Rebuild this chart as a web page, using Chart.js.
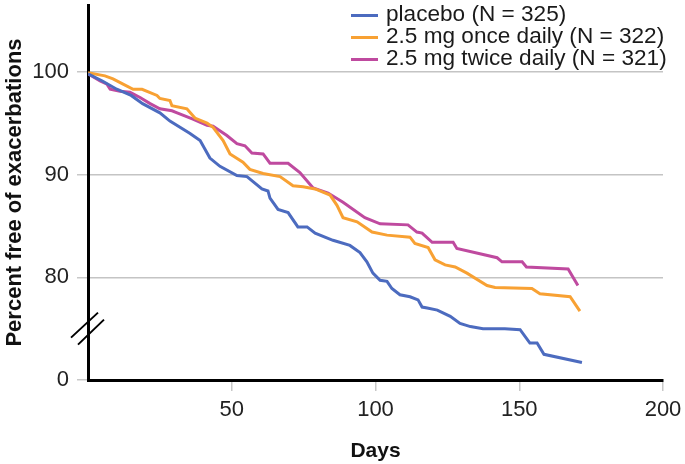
<!DOCTYPE html>
<html>
<head>
<meta charset="utf-8">
<script src="https://cdn.jsdelivr.net/npm/chart.js@4.4.1/dist/chart.umd.min.js"></script>
<style>
  body { margin: 0; background: #fff; }
  #wrap { position: relative; width: 685px; height: 464px; }
  #legend { position: absolute; left: 351px; top: 3px; font: 22.6px "Liberation Sans", Arial, sans-serif; color: #1a1a1a; }
  #legend .row { display: flex; align-items: center; height: 22px; line-height: 22px; white-space: nowrap; }
  #legend .swatch { width: 27px; height: 3px; margin-right: 8px; position: relative; top: 1px; }
</style>
</head>
<body>
<div id="wrap">
  <canvas id="kmChart" width="685" height="464"></canvas>
  <div id="legend"></div>
</div>
<script>
// series labels and colours
const seriesLabels = ['placebo (N = 325)', '2.5 mg once daily (N = 322)', '2.5 mg twice daily (N = 321)'];
const seriesColors = ['#4c6bbf', '#f8a133', '#bf4a9f'];

// placebo
const placeboDays = [0, 5, 10, 15, 19, 25, 28.5, 35.5, 39, 42.4, 45.9, 51.8, 55.3, 60.5, 62.6, 63.3, 66.1, 69.6, 73, 76.2, 79, 85.2, 91.1, 94.6, 97, 99.1, 101.6, 104, 105.7, 108.5, 112, 114.8, 116.2, 118, 121.5, 126, 129.4, 133, 137.4, 145, 150.3, 153.7, 156.2, 158.6, 171.8];
const placeboPct = [99.8, 99.1, 98.3, 97.7, 96.9, 96.0, 95.2, 94.0, 93.3, 91.6, 90.8, 89.9, 89.8, 88.6, 88.4, 87.7, 86.6, 86.3, 84.9, 84.9, 84.3, 83.6, 83.1, 82.4, 81.5, 80.4, 79.7, 79.6, 78.9, 78.3, 78.1, 77.8, 77.1, 77.0, 76.8, 76.2, 75.5, 75.2, 75.0, 75.0, 74.9, 73.6, 73.6, 72.5, 71.7];

// 2.5 mg once daily
const onceDays = [0, 5.9, 8.7, 12.2, 15.7, 18.8, 24, 25, 28.5, 29.2, 34.4, 37.2, 41.4, 43.5, 47, 49.4, 53.9, 56.3, 60.9, 66.8, 71.3, 74.8, 79, 84.2, 86.6, 88.7, 93.6, 98.8, 104, 112, 113.7, 118.3, 120.7, 124.2, 127.7, 131.8, 138.8, 141.6, 154.4, 157.2, 167.7, 171.1];
const oncePct = [99.9, 99.6, 99.3, 98.8, 98.3, 98.3, 97.7, 97.4, 97.2, 96.7, 96.4, 95.5, 95.0, 94.6, 93.3, 92.0, 91.2, 90.5, 90.1, 89.8, 88.9, 88.8, 88.6, 88.0, 87.0, 85.8, 85.4, 84.4, 84.1, 83.9, 83.3, 82.9, 81.7, 81.2, 81.0, 80.4, 79.2, 79.0, 78.9, 78.4, 78.1, 76.7];

// 2.5 mg twice daily
const twiceDays = [0, 4.2, 6.6, 7.7, 11.1, 14.6, 18.1, 21.6, 25, 29.2, 31, 36.5, 41.4, 43.5, 48.3, 51.8, 54.6, 57, 60.9, 63.3, 69.6, 73.7, 78.3, 83.5, 88.7, 96.3, 101.6, 111.3, 114.4, 116.2, 119.7, 127, 128.3, 142.3, 144, 151, 152.5, 167, 170.4];
const twicePct = [99.8, 99.1, 98.8, 98.3, 98.1, 98.0, 97.5, 96.9, 96.4, 96.2, 96.0, 95.4, 94.8, 94.7, 93.8, 93.0, 92.8, 92.1, 92.0, 91.1, 91.1, 90.2, 88.7, 88.2, 87.3, 85.8, 85.2, 85.1, 84.4, 84.3, 83.4, 83.4, 82.8, 81.9, 81.5, 81.5, 81.0, 80.8, 79.2];

// axis ticks (the broken y axis shows 70 as "0")
const xTickValues = [50, 100, 150, 200];
const yTickValues = [70, 80, 90, 100];
const yTickLabels = ['0', '80', '90', '100'];

const FONT = '"Liberation Sans", Arial, sans-serif';

function toPoints(days, pct) {
  return days.map((d, i) => ({ x: d, y: pct[i] }));
}

const seriesData = [
  toPoints(placeboDays, placeboPct),
  toPoints(onceDays, oncePct),
  toPoints(twiceDays, twicePct)
];

// the two slanted marks for the axis break
const axisBreak = {
  id: 'axisBreak',
  afterDraw(chart) {
    const ctx = chart.ctx;
    const x0 = chart.scales.x.left;
    const y0 = chart.scales.y.getPixelForValue(75);
    ctx.save();
    ctx.strokeStyle = '#000';
    ctx.lineWidth = 2;
    ctx.beginPath();
    ctx.moveTo(x0 - 17, y0 + 9);
    ctx.lineTo(x0 + 10, y0 - 16);
    ctx.moveTo(x0 - 10, y0 + 16);
    ctx.lineTo(x0 + 16, y0 - 9);
    ctx.stroke();
    ctx.restore();
  }
};

const chart = new Chart(document.getElementById('kmChart'), {
  type: 'line',
  data: {
    datasets: seriesData.map((pts, i) => ({
      label: seriesLabels[i],
      data: pts,
      borderColor: seriesColors[i],
      backgroundColor: seriesColors[i],
      borderWidth: 3,
      pointRadius: 0,
      tension: 0,
      fill: false
    }))
  },
  options: {
    responsive: false,
    animation: false,
    layout: { padding: { top: 5, right: 22, left: 0, bottom: 0 } },
    plugins: {
      legend: { display: false },
      tooltip: { enabled: false }
    },
    scales: {
      x: {
        type: 'linear',
        min: 0,
        max: 200,
        afterFit: s => { s.height = 84; s.paddingLeft = 0; s.paddingRight = 0; },
        afterBuildTicks: s => { s.ticks = xTickValues.map(v => ({ value: v })); },
        border: { color: '#000', width: 3 },
        grid: { drawOnChartArea: false, tickLength: 11, tickColor: '#c8c8c8', lineWidth: 1.5 },
        ticks: { color: '#222', padding: 6, font: { family: FONT, size: 22 } },
        title: {
          display: true,
          text: 'Days',
          color: '#111',
          padding: { top: 0, bottom: 0 },
          font: { family: FONT, size: 21, weight: 'bold' }
        }
      },
      y: {
        min: 70,
        max: 106.5,
        afterFit: s => { s.width = 88; s.paddingTop = 0; s.paddingBottom = 0; },
        afterBuildTicks: s => { s.ticks = yTickValues.map(v => ({ value: v })); },
        border: { color: '#000', width: 3 },
        grid: { color: '#c4c4c4', lineWidth: 1.5, tickLength: 11, tickColor: '#c8c8c8' },
        ticks: {
          color: '#222',
          padding: 8,
          font: { family: FONT, size: 22 },
          callback: v => yTickLabels[yTickValues.indexOf(v)]
        },
        title: {
          display: true,
          text: 'Percent free of exacerbations',
          color: '#111',
          padding: { top: 2, bottom: 0 },
          font: { family: FONT, size: 22, weight: 'bold' }
        }
      }
    }
  },
  plugins: [axisBreak]
});

// legend as plain html rows
const legend = document.getElementById('legend');
seriesLabels.forEach((label, i) => {
  const row = document.createElement('div');
  row.className = 'row';
  const sw = document.createElement('span');
  sw.className = 'swatch';
  sw.style.background = seriesColors[i];
  const txt = document.createElement('span');
  txt.innerText = label;
  row.appendChild(sw);
  row.appendChild(txt);
  legend.appendChild(row);
});
</script>
</body>
</html>
